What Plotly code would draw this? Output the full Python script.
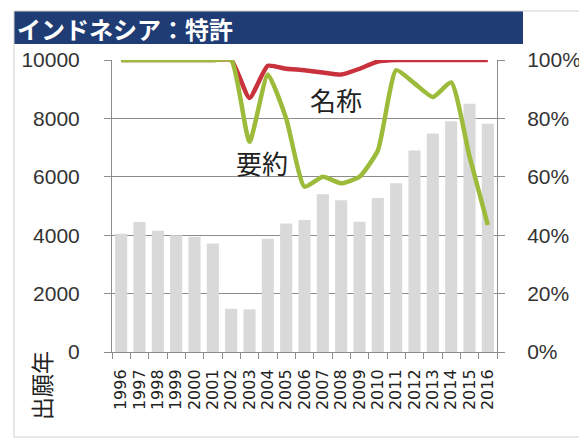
import plotly.graph_objects as go

YEARS = [str(y) for y in range(1996, 2017)]
APPLICATIONS = [4050, 4450, 4150, 4000, 3950, 3720, 1480, 1460, 3880, 4400, 4520,
                5400, 5200, 4460, 5270, 5780, 6900, 7480, 7900, 8500, 7820]
NAME_RATE = [1.0, 1.0, 1.0, 1.0, 1.0, 1.0, 1.0, 0.87, 0.98, 0.97, 0.965,
             0.957, 0.95, 0.97, 0.995, 1.0, 1.0, 1.0, 1.0, 1.0, 1.0]
ABSTRACT_RATE = [1.0, 1.0, 1.0, 1.0, 1.0, 1.0, 1.0, 0.72, 0.95, 0.80, 0.566,
                 0.60, 0.578, 0.60, 0.69, 0.965, 0.92, 0.873, 0.923, 0.67, 0.435]
LEFT_TICKS = [0, 2000, 4000, 6000, 8000, 10000]
RIGHT_TICKS = [0, 0.2, 0.4, 0.6, 0.8, 1.0]

FONT = "Liberation Sans"
JP = "Noto Sans CJK JP"
TEXT = "#333333"
AXIS = "#8c8c8c"

# the page puts the figure 8px in from the window corner, so work in window px
OFF = 8
W, H = 587, 440
PLOT_X = (112, 497)   # window px
PLOT_Y = (60, 352)
L, T = PLOT_X[0] - OFF, PLOT_Y[0] - OFF
R, B = W - (PLOT_X[1] - OFF), H - (PLOT_Y[1] - OFF)
PW, PH = PLOT_X[1] - PLOT_X[0], PLOT_Y[1] - PLOT_Y[0]


def px_x(x):
    return (x - PLOT_X[0]) / PW


def px_y(y):
    return (PLOT_Y[1] - y) / PH


fig = go.Figure()
fig.add_bar(x=YEARS, y=APPLICATIONS, marker_color="#D9D9D9", marker_line_width=0,
            width=0.66, name="出願件数")
fig.add_scatter(x=YEARS, y=NAME_RATE, yaxis="y2", mode="lines", name="名称",
                line=dict(color="#C9323D", width=4.5, shape="spline", smoothing=0.5))
fig.add_scatter(x=YEARS, y=ABSTRACT_RATE, yaxis="y2", mode="lines", name="要約",
                line=dict(color="#9DBB3A", width=4.5, shape="spline", smoothing=0.5))

# title bar + outer frame
fig.add_shape(type="rect", xref="paper", yref="paper",
              x0=px_x(14), x1=px_x(523), y0=px_y(44), y1=px_y(11),
              fillcolor="#1F3C74", line_width=0, layer="below")
fig.add_shape(type="rect", xref="paper", yref="paper",
              x0=px_x(14), x1=px_x(584), y0=px_y(437), y1=px_y(11),
              line=dict(color="#d0d0d0", width=1), layer="below")
fig.add_annotation(text="<b>インドネシア：特許</b>", xref="paper", yref="paper",
                   x=px_x(15), y=px_y(28), xanchor="left", yanchor="middle",
                   showarrow=False, font=dict(family=JP, size=24, color="white"))

fig.add_annotation(text="名称", x=11.7, y=0.866, xref="x", yref="y2", showarrow=False,
                   font=dict(family=JP, size=26, color="#222"))
fig.add_annotation(text="要約", x=7.7, y=0.65, xref="x", yref="y2", showarrow=False,
                   font=dict(family=JP, size=26, color="#222"))
fig.add_annotation(text="出願年", xref="paper", yref="paper", x=px_x(41), y=px_y(386),
                   xanchor="center", yanchor="middle", textangle=-90, showarrow=False,
                   font=dict(family=JP, size=23, color="#222"))

fig.update_layout(
    width=W, height=H, margin=dict(l=L, r=R, t=T, b=B),
    plot_bgcolor="white", paper_bgcolor="white", showlegend=False,
    font=dict(family=FONT, color=TEXT),
    xaxis=dict(type="category", tickangle=-90, tickmode="array", tickvals=YEARS,
               tickfont=dict(family="DejaVu Sans", size=16, color="#222"),
               ticklabelstandoff=10,
               showline=True, linecolor=AXIS, ticks="outside", tickson="boundaries",
               ticklen=6, tickcolor=AXIS, showgrid=False),
    yaxis=dict(range=[0, 10000], tickvals=LEFT_TICKS, tickformat="d",
               tickfont=dict(size=21), ticklabelstandoff=20,
               showline=True, linecolor=AXIS, ticks="outside", ticklen=7,
               tickcolor=AXIS, gridcolor="#8c8c8c", gridwidth=1, zeroline=False),
    yaxis2=dict(range=[0, 1], tickvals=RIGHT_TICKS, tickformat=".0%", overlaying="y",
                side="right", tickfont=dict(size=21), ticklabelstandoff=18,
                showline=True, linecolor=AXIS, ticks="outside", ticklen=7,
                tickcolor=AXIS, showgrid=False, zeroline=False),
)

fig.write_html("out.html")
